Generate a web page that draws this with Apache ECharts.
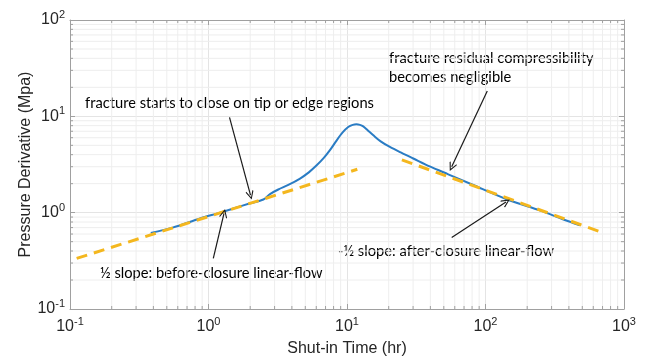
<!DOCTYPE html>
<html>
<head>
<meta charset="utf-8">
<script src="https://cdn.jsdelivr.net/npm/echarts@6/dist/echarts.min.js"></script>
<style>
  html, body { margin: 0; padding: 0; background: #fff; }
  #chart { width: 647px; height: 364px; }
</style>
</head>
<body>
<div id="chart"></div>
<script>
// Pressure derivative vs. shut-in time (log-log)
const derivative = [
  [0.383, 0.617], [0.55, 0.70], [0.868, 0.871], [1.21, 1.0], [1.51, 1.105],
  [2.0, 1.25], [2.49, 1.37], [2.78, 1.56], [3.19, 1.74], [3.8, 1.95],
  [4.58, 2.26], [5.3, 2.62], [6.04, 3.10], [6.8, 3.7], [7.53, 4.45],
  [8.43, 5.64], [9.3, 6.8], [10.2, 7.74], [11.0, 8.15], [11.7, 8.26],
  [12.4, 8.15], [13.1, 7.87], [14.2, 7.1], [15.5, 6.35], [17.5, 5.5],
  [20.4, 4.81], [25, 4.15], [30.1, 3.65], [40, 3.0], [53.8, 2.5],
  [80, 1.96], [142, 1.38], [250, 1.05], [365, 0.85], [480, 0.74]
];
// half-slope (before closure) and minus-half-slope (after closure) lines
const beforeClosure = [[0.1117, 0.335], [11.87, 2.82]];
const afterClosure = [[23.4, 3.65], [705, 0.618]];

const xMin = 0.1, xMax = 1000;
const yMin = 0.1, yMax = 100;

// minor tick values (2..9 within each decade)
function minorValues(lo, hi) {
  const out = [];
  for (let d = lo; d < hi; d *= 10) {
    for (let k = 2; k <= 9; k++) out.push(+(k * d).toPrecision(6));
  }
  return out;
}
const xMinor = minorValues(xMin, xMax);
const yMinor = minorValues(yMin, yMax);

// annotation arrows: [from, to] in data coordinates
const arrows = [
  [[1.418, 9.77], [2.01, 1.52]],
  [[103, 18.3], [57.0, 2.99]],
  [[1.083, 0.335], [1.294, 0.981]],
  [[57.0, 0.553], [140.6, 1.294]]
];

const axisGray = '#a0a0a0';
const textGray = '#262626';
const noteFont = '14.7px Lato';

function powLabel(v) {
  const e = Math.round(Math.log10(v));
  return '{b|10}{s|' + e + '}';
}
const labelRich = {
  b: { fontSize: 16, fontFamily: 'Liberation Sans', color: textGray },
  s: { fontSize: 11, fontFamily: 'Liberation Sans', color: textGray, padding: [0, 0, 10, 0] }
};

function minorRender(isX) {
  return function (params, api) {
    const cs = params.coordSys;
    const p = isX ? api.coord([api.value(0), yMin]) : api.coord([xMin, api.value(1)]);
    const children = [];
    if (isX) {
      const x = p[0];
      children.push({ type: 'line', shape: { x1: x, y1: cs.y, x2: x, y2: cs.y + cs.height },
        style: { stroke: '#eeeeee', lineWidth: 1 } });
      children.push({ type: 'line', shape: { x1: x, y1: cs.y + cs.height, x2: x, y2: cs.y + cs.height - 3 },
        style: { stroke: axisGray, lineWidth: 1 } });
      children.push({ type: 'line', shape: { x1: x, y1: cs.y, x2: x, y2: cs.y + 3 },
        style: { stroke: axisGray, lineWidth: 1 } });
    } else {
      const y = p[1];
      children.push({ type: 'line', shape: { x1: cs.x, y1: y, x2: cs.x + cs.width, y2: y },
        style: { stroke: '#eeeeee', lineWidth: 1 } });
      children.push({ type: 'line', shape: { x1: cs.x, y1: y, x2: cs.x + 3, y2: y },
        style: { stroke: axisGray, lineWidth: 1 } });
      children.push({ type: 'line', shape: { x1: cs.x + cs.width, y1: y, x2: cs.x + cs.width - 3, y2: y },
        style: { stroke: axisGray, lineWidth: 1 } });
    }
    return { type: 'group', children: children };
  };
}

const arrowHead = 'path://M5,0 L10,9 L9,10 L5,2.6 L1,10 L0,9 Z';

const chart = echarts.init(document.getElementById('chart'), null, { renderer: 'canvas' });
chart.setOption({
  animation: false,
  backgroundColor: '#ffffff',
  grid: { left: 70, right: 23, top: 20, bottom: 55 },
  xAxis: [{
    type: 'log', logBase: 10, min: xMin, max: xMax, interval: 1,
    name: 'Shut-in Time (hr)', nameLocation: 'middle', nameGap: 32, nameMoveOverlap: false,
    nameTextStyle: { fontSize: 16, fontFamily: 'Liberation Sans', color: textGray },
    axisLine: { show: true, lineStyle: { color: axisGray } },
    axisTick: { show: true, inside: true, length: 5, lineStyle: { color: axisGray } },
    axisLabel: { formatter: powLabel, rich: labelRich, margin: 7 },
    splitLine: { show: true, lineStyle: { color: '#e4e4e4' } }
  }, {
    type: 'log', logBase: 10, min: xMin, max: xMax, interval: 1, position: 'top',
    axisLine: { show: true, lineStyle: { color: axisGray } },
    axisTick: { show: true, inside: true, length: 5, lineStyle: { color: axisGray } },
    axisLabel: { show: false }, splitLine: { show: false }
  }],
  yAxis: [{
    type: 'log', logBase: 10, min: yMin, max: yMax, interval: 1,
    name: 'Pressure Derivative (Mpa)', nameLocation: 'middle', nameGap: 36, nameRotate: 90,
    nameMoveOverlap: false,
    nameTextStyle: { fontSize: 16, fontFamily: 'Liberation Sans', color: textGray },
    axisLine: { show: true, lineStyle: { color: axisGray } },
    axisTick: { show: true, inside: true, length: 5, lineStyle: { color: axisGray } },
    axisLabel: { formatter: powLabel, rich: labelRich, margin: 5 },
    splitLine: { show: true, lineStyle: { color: '#e4e4e4' } }
  }, {
    type: 'log', logBase: 10, min: yMin, max: yMax, interval: 1, position: 'right',
    axisLine: { show: true, lineStyle: { color: axisGray } },
    axisTick: { show: true, inside: true, length: 5, lineStyle: { color: axisGray } },
    axisLabel: { show: false }, splitLine: { show: false }
  }],
  series: [
    { type: 'custom', silent: true, z: 0, renderItem: minorRender(true),
      data: xMinor.map(v => [v, yMin]), clip: false },
    { type: 'custom', silent: true, z: 0, renderItem: minorRender(false),
      data: yMinor.map(v => [xMin, v]), clip: false },
    {
      name: 'Pressure derivative', type: 'line', data: derivative, smooth: 0.3,
      showSymbol: false, symbol: 'none', z: 3,
      lineStyle: { color: '#2a7cc4', width: 2 }
    },
    {
      name: 'Before-closure', type: 'line', data: beforeClosure, showSymbol: false, symbol: 'none', z: 4,
      lineStyle: { color: '#f4b71e', width: 3, type: [11, 7] }
    },
    {
      name: 'After-closure', type: 'line', data: afterClosure, showSymbol: false, symbol: 'none', z: 4,
      lineStyle: { color: '#f4b71e', width: 3, type: [11, 7], dashOffset: 14 },
      markLine: {
        silent: true, animation: false,
        symbol: ['none', arrowHead], symbolSize: [8, 9],
        label: { show: false },
        lineStyle: { color: '#1a1a1a', width: 1.2, type: 'solid' },
        data: arrows.map(a => [{ coord: a[0] }, { coord: a[1] }])
      }
    }
  ],
  graphic: [
    { type: 'text', x: 85, y: 103, style: { text: 'fracture starts to close on tip or edge regions', font: noteFont, fill: '#000', verticalAlign: 'middle' } },
    { type: 'text', x: 389, y: 58, style: { text: 'fracture residual compressibility', font: noteFont, fill: '#000', verticalAlign: 'middle' } },
    { type: 'text', x: 389, y: 77, style: { text: 'becomes negligible', font: noteFont, fill: '#000', verticalAlign: 'middle' } },
    { type: 'text', x: 100, y: 273, style: { text: '½ slope: before-closure linear-flow', font: noteFont, fill: '#000', verticalAlign: 'middle' } },
    { type: 'text', x: 338, y: 251, style: { text: '-½ slope: after-closure linear-flow', font: noteFont, fill: '#000', verticalAlign: 'middle' } }
  ]
});
</script>
</body>
</html>
